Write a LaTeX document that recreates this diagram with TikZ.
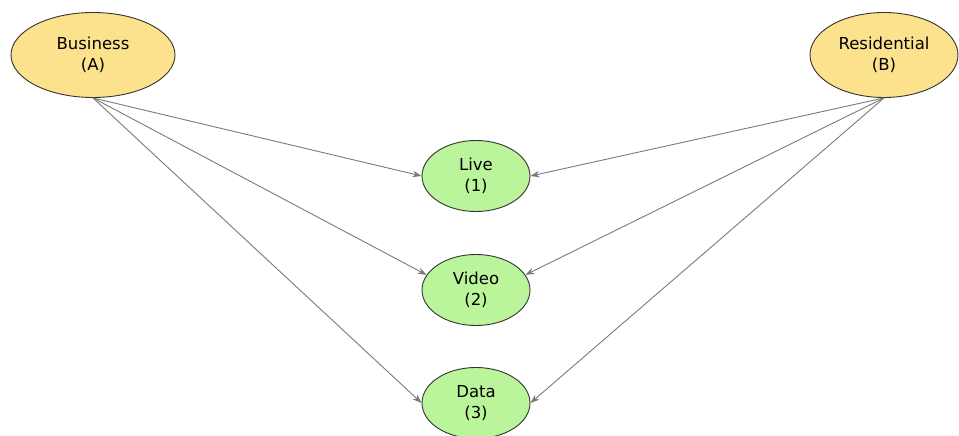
\documentclass[tikz,border=0pt]{standalone}
\usepackage{fontspec}
\setmainfont{DejaVu Sans}
\usetikzlibrary{shapes.geometric,arrows.meta}
\definecolor{segyel}{HTML}{FCE28C}
\definecolor{seggrn}{HTML}{BBF59B}
\definecolor{edgegray}{HTML}{7A7A7A}
\begin{document}
\begin{tikzpicture}[x=1pt,y=-1pt,
  segment/.style={ellipse,draw=black!80,line width=0.9pt,fill=segyel,
    minimum width=164pt,minimum height=85pt,inner sep=0pt,align=center,
    font=\fontsize{16.5}{21}\selectfont},
  service/.style={ellipse,draw=black!80,line width=0.9pt,fill=seggrn,
    minimum width=108pt,minimum height=71pt,inner sep=0pt,align=center,
    font=\fontsize{16.5}{21}\selectfont},
  link/.style={draw=edgegray,line width=0.9pt,
    -{Stealth[length=9pt,width=6.5pt,fill=edgegray]}}]
\useasboundingbox (0,0) rectangle (959,436);
\node[segment] (A) at (93,55) {Business\\(A)};
\node[segment,minimum width=148pt] (B) at (884,55) {Residential\\(B)};
\node[service] (L) at (476,176) {Live\\(1)};
\node[service] (V) at (476,290) {Video\\(2)};
\node[service] (D) at (476,403) {Data\\(3)};
\draw[link] (A.south) -- (L.west);
\draw[link] (A.south) -- (V.163);
\draw[link] (A.south) -- (D.west);
\draw[link] (B.south) -- (L.east);
\draw[link] (B.south) -- (V.17);
\draw[link] (B.south) -- (D.east);
\end{tikzpicture}
\end{document}
